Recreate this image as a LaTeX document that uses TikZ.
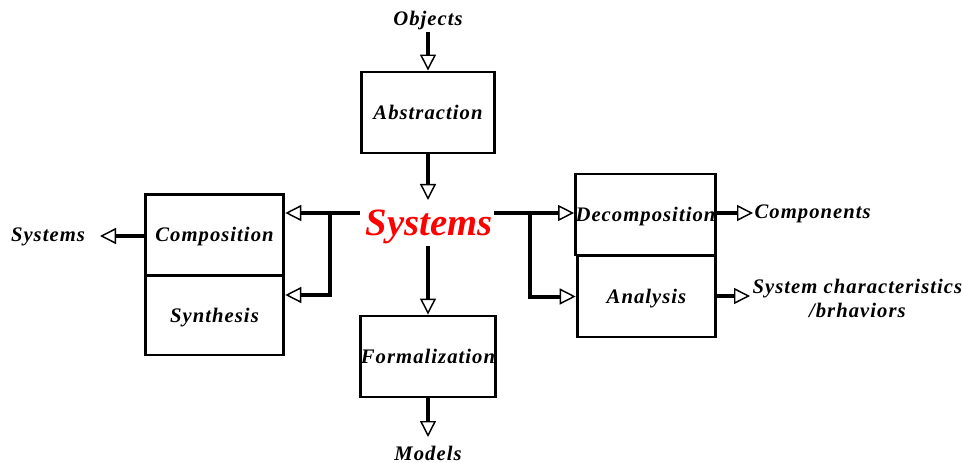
\documentclass[tikz,border=0pt]{standalone}
\usepackage{fontspec}
\setmainfont{Liberation Serif}
\newfontfamily\lblfont[LetterSpace=5]{Liberation Serif}
\usetikzlibrary{arrows.meta}
\tikzset{
  lbl/.style={font=\lblfont\fontsize{15.5}{18}\selectfont\bfseries\itshape, inner sep=1pt},
  box/.style={draw, line width=2.2pt, minimum width=#1, minimum height=60.75pt,
              font=\lblfont\fontsize{15.5}{18}\selectfont\bfseries\itshape, inner sep=0pt,
              text depth=1pt},
  conn/.style={line width=3pt, -{Triangle[open,length=12pt,width=12pt,line width=1.1pt]}},
}
\begin{document}
\begin{tikzpicture}[x=0.75pt,y=-0.75pt]
\useasboundingbox (0,0) rectangle (963,463);
% nodes
\node[lbl] (objects) at (428,21) {Objects};
\node[box=99.75pt] (abs) at (428,112.5) {Abstraction};
\node[font=\fontsize{29}{32}\selectfont\bfseries\itshape, text=red, inner sep=0pt] (sys) at (429,227) {Systems};
\node[box=104pt] (comp) at (214.5,235) {Composition};
\node[box=104pt, minimum height=59.25pt] (syn) at (214.5,315.5) {Synthesis};
\node[box=104pt] (dec) at (645.5,214.5) {Decomposition};
\node[box=104pt] (ana) at (646.5,296.5) {Analysis};
\node[box=99pt] (form) at (428,356.5) {Formalization};
\node[lbl] (sysout) at (48,237) {Systems};
\node[lbl, anchor=west] (comps) at (753,214) {Components};
\node[lbl, anchor=west, align=center] (chars) at (751,298) {System characteristics\\/brhaviors};
\node[lbl, inner sep=0pt] (models) at (428,453) {Models};
% connector ends
\coordinate (sysT) at (428,200);
\coordinate (sysB) at (428,246);
\coordinate (sysL) at (360,213);
\coordinate (brL) at (330,213);
\coordinate (sysR) at (494,213);
\coordinate (brR) at (530,213);
\coordinate (sysoutTip) at (100,236);
\coordinate (modelsTip) at (428,437);
\coordinate (compsTip) at (753,213);
\coordinate (charsTip) at (750,296);
% connectors
\draw[conn] (objects.south) -- (abs.north);
\draw[conn] (abs.south) -- (sysT);
\draw[conn] (sysL) -- (comp.east |- sysL);
\draw[conn] (brL) |- (syn.east |- 0,295);
\draw[conn] (comp.west |- sysoutTip) -- (sysoutTip);
\draw[conn] (sysR) -- (dec.west |- sysR);
\draw[conn] (brR) |- (ana.west);
\draw[conn] (dec.east |- compsTip) -- (compsTip);
\draw[conn] (ana.east |- charsTip) -- (charsTip);
\draw[conn] (sysB) -- (form.north);
\draw[conn] (form.south) -- (modelsTip);
\end{tikzpicture}
\end{document}
